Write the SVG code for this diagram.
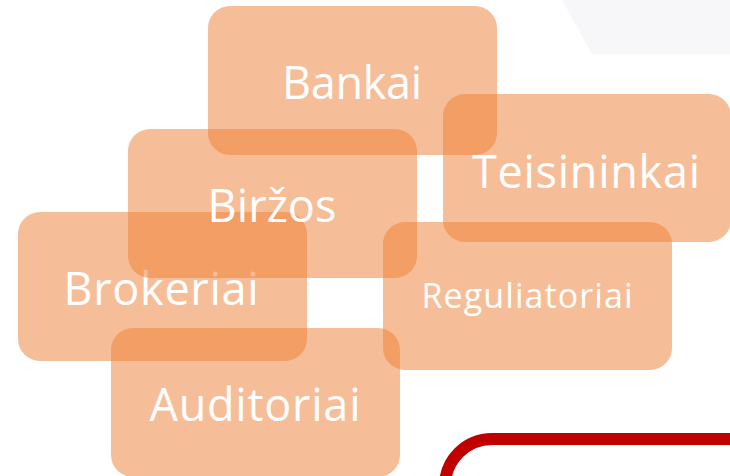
<svg xmlns="http://www.w3.org/2000/svg" width="730" height="476" viewBox="0 0 730 476">
<style>
.box{fill:#ED7D31;fill-opacity:0.5}
.lbl{fill:#FFFFFF;font-family:"Open Sans","Noto Sans",sans-serif;font-size:45px;text-anchor:middle}
.sm{font-size:34px}
</style>
<rect width="730" height="476" fill="#FFFFFF"/>
<polygon points="562,0 730,0 730,54 592,54" fill="#F7F7F9"/>
<rect x="445" y="439" width="400" height="200" rx="47" fill="none" stroke="#C00000" stroke-width="12"/>
<g id="auditoriai"><rect class="box" x="111" y="328" width="289" height="149" rx="22"/><text class="lbl" x="255" y="421" textLength="211" lengthAdjust="spacing">Auditoriai</text></g>
<g id="brokeriai"><rect class="box" x="18" y="212" width="289" height="149" rx="22"/><text class="lbl" x="161" y="305" textLength="195" lengthAdjust="spacing">Brokeriai</text></g>
<g id="birzos"><rect class="box" x="128" y="129" width="289" height="149" rx="22"/><text class="lbl" x="272" y="222" textLength="129" lengthAdjust="spacing">Biržos</text></g>
<g id="bankai"><rect class="box" x="208" y="6" width="289" height="149" rx="22"/><text class="lbl" x="352" y="99" textLength="140" lengthAdjust="spacing">Bankai</text></g>
<g id="reguliatoriai"><rect class="box" x="383" y="222" width="289" height="148" rx="22"/><text class="lbl sm" x="527" y="308" textLength="211" lengthAdjust="spacing">Reguliatoriai</text></g>
<g id="teisininkai"><rect class="box" x="443" y="94" width="288" height="148" rx="22"/><text class="lbl" x="586" y="188" textLength="228" lengthAdjust="spacing">Teisininkai</text></g>
</svg>
